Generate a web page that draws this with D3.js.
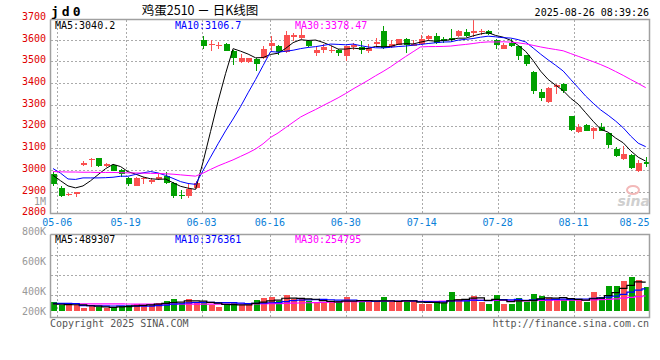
<!DOCTYPE html>
<html><head><meta charset="utf-8">
<script src="https://cdn.jsdelivr.net/npm/d3@7"></script>
<style>body{margin:0;background:#fff}svg{display:block}</style>
</head><body><svg id="c" width="660" height="360"></svg>
<script>
// ---------------- data ----------------
const dates = ["04-30",
 "05-06","05-07","05-08","05-09","05-12","05-13","05-14","05-15","05-16","05-19","05-20","05-21","05-22","05-23","05-26","05-27","05-28","05-29","05-30",
 "06-03","06-04","06-05","06-06","06-09","06-10","06-11","06-12","06-13","06-16","06-17","06-18","06-19","06-20","06-23","06-24","06-25","06-26","06-27","06-30",
 "07-01","07-02","07-03","07-04","07-07","07-08","07-09","07-10","07-11","07-14","07-15","07-16","07-17","07-18","07-21","07-22","07-23","07-24","07-25","07-28","07-29","07-30","07-31",
 "08-01","08-04","08-05","08-06","08-07","08-08","08-11","08-12","08-13","08-14","08-15","08-18","08-19","08-20","08-21","08-22","08-25"];
const open  = [2980,2915,2885,2888,3021,3046,3053,3016,3022,2999, 2962,2925,2958,2946,2956,2972,2940,2886,2880,2917,
               3600,3577,3573,3580,3546,3497,3497,3511,3514,3568, 3571,3542,3612,3606,3594,3538,3550,3551,3552,3522,
               3566,3565,3545,3578,3640,3565,3577,3603,3571,3580, 3602,3617,3603,3606,3617,3634,3630,3635,3640,3599,
               3558,3586,3568,3528,3451,3358,3313,3381,3396,3248, 3175,3205,3178,3199,3168,3097,3049,3069,2997,3036];
const high  = [2991,2925,2894,2898,3042,3055,3055,3032,3026,3002, 2967,2965,2965,2962,2980,2992,2945,2906,2934,2950,
               3617,3598,3589,3583,3552,3532,3517,3515,3568,3614, 3577,3637,3632,3648,3598,3565,3580,3571,3555,3571,
               3583,3592,3580,3606,3663,3598,3602,3606,3598,3623, 3623,3629,3611,3648,3645,3648,3690,3648,3645,3602,
               3583,3602,3571,3531,3454,3372,3383,3394,3399,3248, 3211,3211,3196,3214,3171,3106,3109,3075,3045,3060];
const low   = [2926,2876,2880,2873,3019,3014,3014,3011,2993,2967, 2926,2925,2937,2937,2953,2934,2872,2866,2872,2913,
               3555,3545,3555,3546,3485,3491,3494,3457,3509,3549, 3531,3540,3592,3602,3565,3525,3540,3537,3522,3503,
               3552,3534,3537,3568,3555,3560,3574,3537,3568,3575, 3596,3580,3586,3589,3611,3611,3611,3623,3620,3555,
               3555,3565,3506,3476,3349,3319,3306,3349,3356,3177, 3171,3177,3142,3177,3100,3057,3045,3002,2990,3011];
const close = [2934,2879,2890,2896,3031,3052,3019,3028,2997,2980, 2934,2964,2962,2955,2967,2940,2880,2880,2912,2938,
               3572,3580,3575,3549,3514,3514,3513,3489,3555,3586, 3542,3622,3623,3623,3568,3552,3567,3553,3540,3568,
               3574,3550,3562,3587,3560,3580,3602,3576,3580,3602, 3617,3586,3594,3596,3638,3617,3640,3638,3626,3573,
               3577,3568,3522,3487,3361,3333,3377,3390,3362,3185, 3198,3180,3193,3180,3115,3063,3072,3008,3033,3025];
const volume = [156000,104000,104000,104000,52000,84000,63000,52000,63000,84000,
                104000,125000,104000,104000,141000,172000,203000,135000,203000,156000,
                135000,104000,63000,104000,141000,104000,104000,193000,219000,235000,
                172000,266000,209000,198000,178000,146000,146000,146000,167000,235000,
                146000,188000,146000,146000,235000,146000,146000,188000,146000,125000,
                124000,155000,134000,325000,207000,170000,263000,145000,124000,278000,
                124000,124000,217000,145000,294000,248000,217000,196000,186000,204240,
                180000,150000,320000,235000,432075,425000,510000,578000,527000,406535];
// moving-average values before enough in-chart history exists
const ma5Early  = [2975,2950,2926,2917];
const ma10Early = [3006,2985,2958,2956,2963,2963,2963,2964,2966];
const ma30Early = [2992,2991,2990,2990,2989,2989,2988,2988,2988,2987,2986,2986,2985,2984,2983,2982,2980,2977,2974,2971,
                   2985,3002,3018,3032,3046,3062,3078,3096,3120];
const vma5Early  = [120000,115000,110000,106000];
const vma10Early = [130000,130000,129000,127000,92000,90000,88000,87000,85000];
const vma30Early = [124000,124000,123000,123000,122000,122000,121000,121000,120000,120000,119000,118000,118000,117000,117000,
                    117000,117000,117000,117000,118000,118000,118000,118000,118000,119000,119000,120000,121000,122000];
const priceTicks = [3700,3600,3500,3400,3300,3200,3100,3000,2900,2800];
const volTicks = [{label:"1M",v:1000000},{label:"800K",v:800000},{label:"600K",v:600000},{label:"400K",v:400000},{label:"200K",v:200000}];
const dateTicks = ["05-06","05-19","06-03","06-16","06-30","07-14","07-28","08-11","08-25"];
const maColors = ["#000000","#0000ff","#ff00ff"];
const upColor = "#fa5050", downColor = "#00a000";

// ---------------- helpers ----------------
function movingAvg(arr, n, early){
  return arr.map((_, i) => i < early.length ? early[i] : d3.mean(arr.slice(i - n + 1, i + 1)));
}
const ma5 = movingAvg(close, 5, ma5Early), ma10 = movingAvg(close, 10, ma10Early), ma30 = movingAvg(close, 30, ma30Early);
const vma5 = movingAvg(volume, 5, vma5Early), vma10 = movingAvg(volume, 10, vma10Early), vma30 = movingAvg(volume, 30, vma30Early);

const W = 660, H = 360;
const L = 50.5, R = 649.5, pTop = 19.5, pBot = 213.5, vTop = 234.5, vBot = 317.5, vBase = 311;
const mono = "'DejaVu Sans Mono', monospace";
const svg = d3.select("#c");
svg.append("rect").attr("width", W).attr("height", H).attr("fill", "#fff");

const n = close.length;
const xs = d3.scaleLinear().domain([0, n - 1]).range([53, 645.7]);
const xGrid = d3.scaleLinear().domain([0, n - 1]).range([49.7, 649.5]);
const yP = d3.scaleLinear().domain([2800, 3700]).range([213.3, 17.8]);
const yV = d3.scaleLinear().domain([0, 1300000]).range([vBase, vBase - 1300000 / 17000]);
const yVLabel = v => Math.min(d3.scaleLinear().domain([400000, 1000000]).range([291, 201])(v), 311);

const gridC = "#aaa", frameC = "#a0a0a0";
const tickIdx = dateTicks.map(d => dates.indexOf(d));

// grid lines
const grid = svg.append("g").attr("stroke", gridC).attr("stroke-dasharray", "2,2").attr("shape-rendering", "crispEdges");
priceTicks.filter(v => v > 2800 && v < 3700).forEach(v => {
  const y = Math.round(yP(v)) + 0.5;
  grid.append("line").attr("x1", L).attr("x2", R).attr("y1", y).attr("y2", y);
});
tickIdx.slice(0, -1).forEach(i => {
  const x = Math.round(xGrid(i)) + 0.5;
  grid.append("line").attr("x1", x).attr("x2", x).attr("y1", pTop).attr("y2", pBot);
  grid.append("line").attr("x1", x).attr("x2", x).attr("y1", vTop).attr("y2", vBot);
});
[255.5, 275.5, 295.5].forEach(y => grid.append("line").attr("x1", L).attr("x2", R).attr("y1", y).attr("y2", y));

// candles
const cg = svg.append("g").attr("shape-rendering", "crispEdges");
d3.range(n).forEach(i => {
  const up = close[i] >= open[i];
  const col = up ? upColor : downColor;
  const cx = Math.round(xs(i));
  cg.append("line").attr("x1", cx + 0.5).attr("x2", cx + 0.5)
    .attr("y1", yP(high[i])).attr("y2", yP(low[i])).attr("stroke", col);
  const y0 = yP(Math.max(open[i], close[i])), y1 = yP(Math.min(open[i], close[i]));
  cg.append("rect").attr("x", cx - 2).attr("width", 6)
    .attr("y", y0).attr("height", Math.max(1, y1 - y0)).attr("fill", col);
});

// price MA lines
const lineP = d3.line().x((d, i) => xs(i)).y(d => yP(d));
[ma5, ma10, ma30].forEach((m, k) => {
  svg.append("path").attr("d", lineP(m)).attr("fill", "none").attr("stroke", maColors[k]).attr("stroke-width", 1);
});

// volume bars
const vg = svg.append("g").attr("shape-rendering", "crispEdges");
d3.range(n).forEach(i => {
  const up = close[i] >= open[i];
  const cx = Math.round(xs(i));
  vg.append("rect").attr("x", cx - 2).attr("width", 6)
    .attr("y", yV(volume[i])).attr("height", vBase - yV(volume[i]))
    .attr("fill", up ? upColor : downColor);
});
const lineV = d3.line().x((d, i) => xs(i)).y(d => yV(d)).curve(d3.curveStep);
[vma30, vma10, vma5].forEach((m, k) => {
  svg.append("path").attr("d", lineV(m)).attr("fill", "none").attr("stroke", maColors[2 - k]).attr("stroke-width", 1.2);
});

// frames
const fr = svg.append("g").attr("stroke", frameC).attr("stroke-width", 1.5).attr("fill", "none");
fr.append("path").attr("d", `M${L},${pTop}H${R}V${pBot}H${L}V${pTop}`);
fr.append("path").attr("d", `M${L},${vTop}H${R}V${vBot}H${L}V${vTop}`);

// axis labels
const tx = svg.append("g").attr("font-family", mono).attr("font-size", 10);
priceTicks.forEach(v => {
  tx.append("text").attr("x", 46).attr("y", yP(v) - 1.5).attr("text-anchor", "end")
    .attr("dominant-baseline", "central").attr("fill", "#e00000").text(v);
});
volTicks.forEach(t => {
  tx.append("text").attr("x", 46).attr("y", yVLabel(t.v)).attr("text-anchor", "end")
    .attr("dominant-baseline", "central").attr("fill", "#999").text(t.label);
});
dateTicks.forEach((d, k) => {
  const t = tx.append("text").attr("x", xGrid(tickIdx[k])).attr("y", 222).attr("text-anchor", "middle")
    .attr("dominant-baseline", "central").attr("fill", "#0a80d8").text(d);
  const bb = t.node().getBBox();
  if (bb.x + bb.width > R) t.attr("x", R - bb.width / 2);
});

// headers
svg.append("text").attr("x", 51).attr("y", 15.5).attr("font-family", mono).attr("font-weight", "bold")
  .attr("font-size", 13).attr("letter-spacing", 3).attr("fill", "#000").text("jd0");
svg.append("text").attr("x", 200).attr("y", 15).attr("text-anchor", "middle")
  .attr("font-family", "'Noto Sans CJK SC', sans-serif").attr("font-size", 12.5).attr("fill", "#000").text("鸡蛋2510 － 日K线图");
tx.append("text").attr("x", 649).attr("y", 12).attr("text-anchor", "end").attr("dominant-baseline", "central")
  .attr("fill", "#000").text("2025-08-26 08:39:26");
const last = n - 1;
const pHead = [["MA5:" + ma5[last].toFixed(1), 55], ["MA10:" + ma10[last].toFixed(1), 175], ["MA30:" + ma30[last].toFixed(2), 295]];
pHead.forEach((h, k) => tx.append("text").attr("x", h[1]).attr("y", 25).attr("dominant-baseline", "central")
  .attr("fill", maColors[k]).text(h[0]));
const vHead = [["MA5:" + Math.round(vma5[last]), 55], ["MA10:" + Math.round(vma10[last]), 175], ["MA30:" + Math.round(vma30[last]), 295]];
vHead.forEach((h, k) => tx.append("text").attr("x", h[1]).attr("y", 239.5).attr("dominant-baseline", "central")
  .attr("fill", maColors[k]).text(h[0]));

// footer
tx.append("text").attr("x", 50).attr("y", 323.5).attr("dominant-baseline", "central").attr("fill", "#555").text("Copyright 2025 SINA.COM");
tx.append("text").attr("x", 649).attr("y", 323.5).attr("text-anchor", "end").attr("dominant-baseline", "central").attr("fill", "#555").text("http://finance.sina.com.cn");

// sina watermark
svg.append("ellipse").attr("cx", 633).attr("cy", 190).attr("rx", 6).attr("ry", 4)
  .attr("fill", "none").attr("stroke", "#f3b9b9").attr("stroke-width", 2);
svg.append("text").attr("x", 650).attr("y", 206).attr("text-anchor", "end").attr("font-family", "'DejaVu Sans', sans-serif")
  .attr("font-style", "italic").attr("font-weight", "bold").attr("font-size", 14).attr("fill", "#cfcfcf").text("sina");
</script>
</body></html>
